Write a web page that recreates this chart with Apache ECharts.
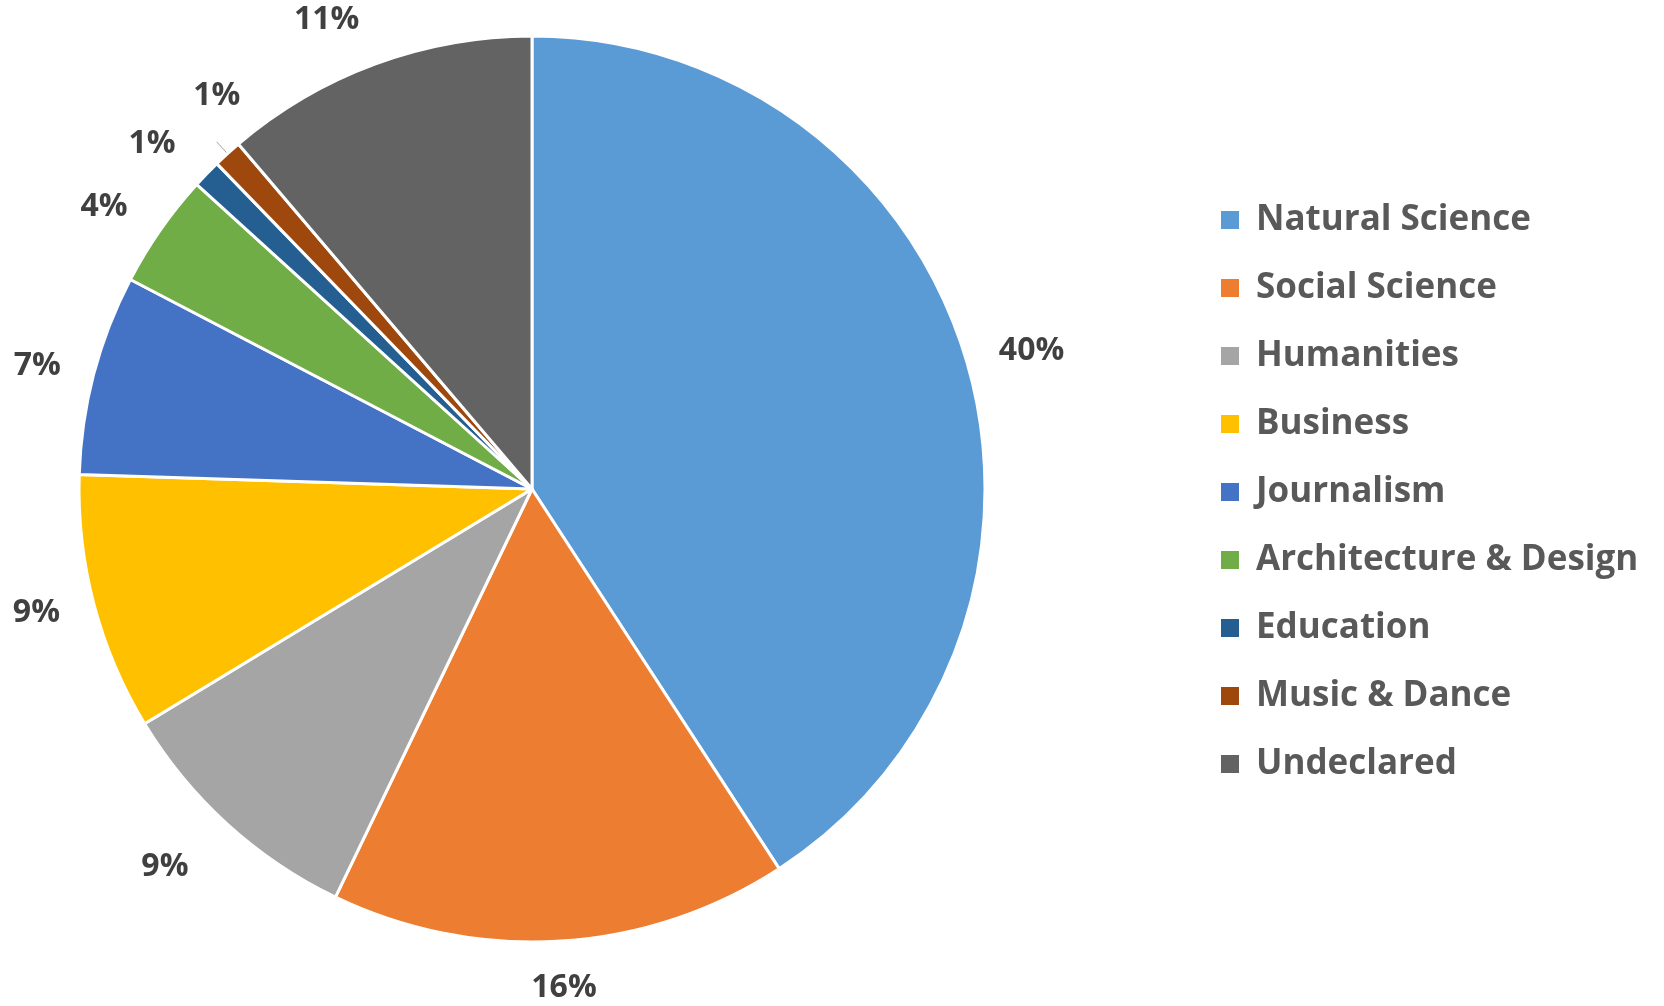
<!DOCTYPE html>
<html>
<head>
<meta charset="utf-8">
<script src="https://cdn.jsdelivr.net/npm/echarts@6/dist/echarts.min.js"></script>
<style>
html,body{margin:0;padding:0;background:#fff;}
#chart{width:1664px;height:1006px;}
</style>
</head>
<body>
<div id="chart"></div>
<script>
const categories = ['Natural Science','Social Science','Humanities','Business','Journalism','Architecture & Design','Education','Music & Dance','Undeclared'];
const values = [40, 16, 9, 9, 7, 4, 1, 1, 11];
const colors = ['#5B9BD5','#ED7D31','#A5A5A5','#FFC000','#4472C4','#70AD47','#255E91','#9E480E','#636363'];

// label placement styling (distance of label from the slice edge)
const labelDistance = [34, 47, 58, 35, 34, 40, 43, 16, 47];
const centeredLabels = ['Social Science', 'Music & Dance'];
const leaderLabel = 'Music & Dance';

const chart = echarts.init(document.getElementById('chart'));
const data = categories.map((name, i) => {
  const d = {
    name: name,
    value: values[i],
    itemStyle: { color: colors[i] },
    labelLine: { show: false, length: labelDistance[i], length2: 0 }
  };
  if (name === leaderLabel) {
    d.labelLine = { show: true, length: labelDistance[i], length2: 0, lineStyle: { color: '#A6A6A6', width: 1 } };
  }
  return d;
});

chart.setOption({
  animation: false,
  backgroundColor: '#ffffff',
  legend: {
    orient: 'vertical',
    left: 1214,
    top: 195,
    icon: 'rect',
    itemWidth: 20,
    itemHeight: 20,
    itemGap: 28,
    textStyle: {
      fontFamily: 'Open Sans',
      fontWeight: 'bold',
      fontSize: 35,
      lineHeight: 40,
      color: '#595959',
      padding: [0, 0, 0, 11]
    },
    data: categories
  },
  series: [{
    type: 'pie',
    center: ['532px', '489px'],
    radius: 453,
    startAngle: 90,
    clockwise: true,
    avoidLabelOverlap: false,
    itemStyle: { borderColor: '#ffffff', borderWidth: 3 },
    label: {
      show: true,
      position: 'outside',
      overflow: 'none',
      bleedMargin: 0,
      distanceToLabelLine: 0,
      formatter: p => p.value + '%',
      fontFamily: 'Open Sans',
      fontWeight: 'bold',
      fontSize: 32,
      color: '#404040'
    },
    labelLayout: function (params) {
      const name = categories[params.dataIndex];
      if (name === leaderLabel) {
        return { align: 'center', verticalAlign: 'bottom', dy: -30 };
      }
      if (centeredLabels.indexOf(name) >= 0) {
        return { align: 'center' };
      }
      return {};
    },
    emphasis: { disabled: true },
    data: data
  }]
});
</script>
</body>
</html>
